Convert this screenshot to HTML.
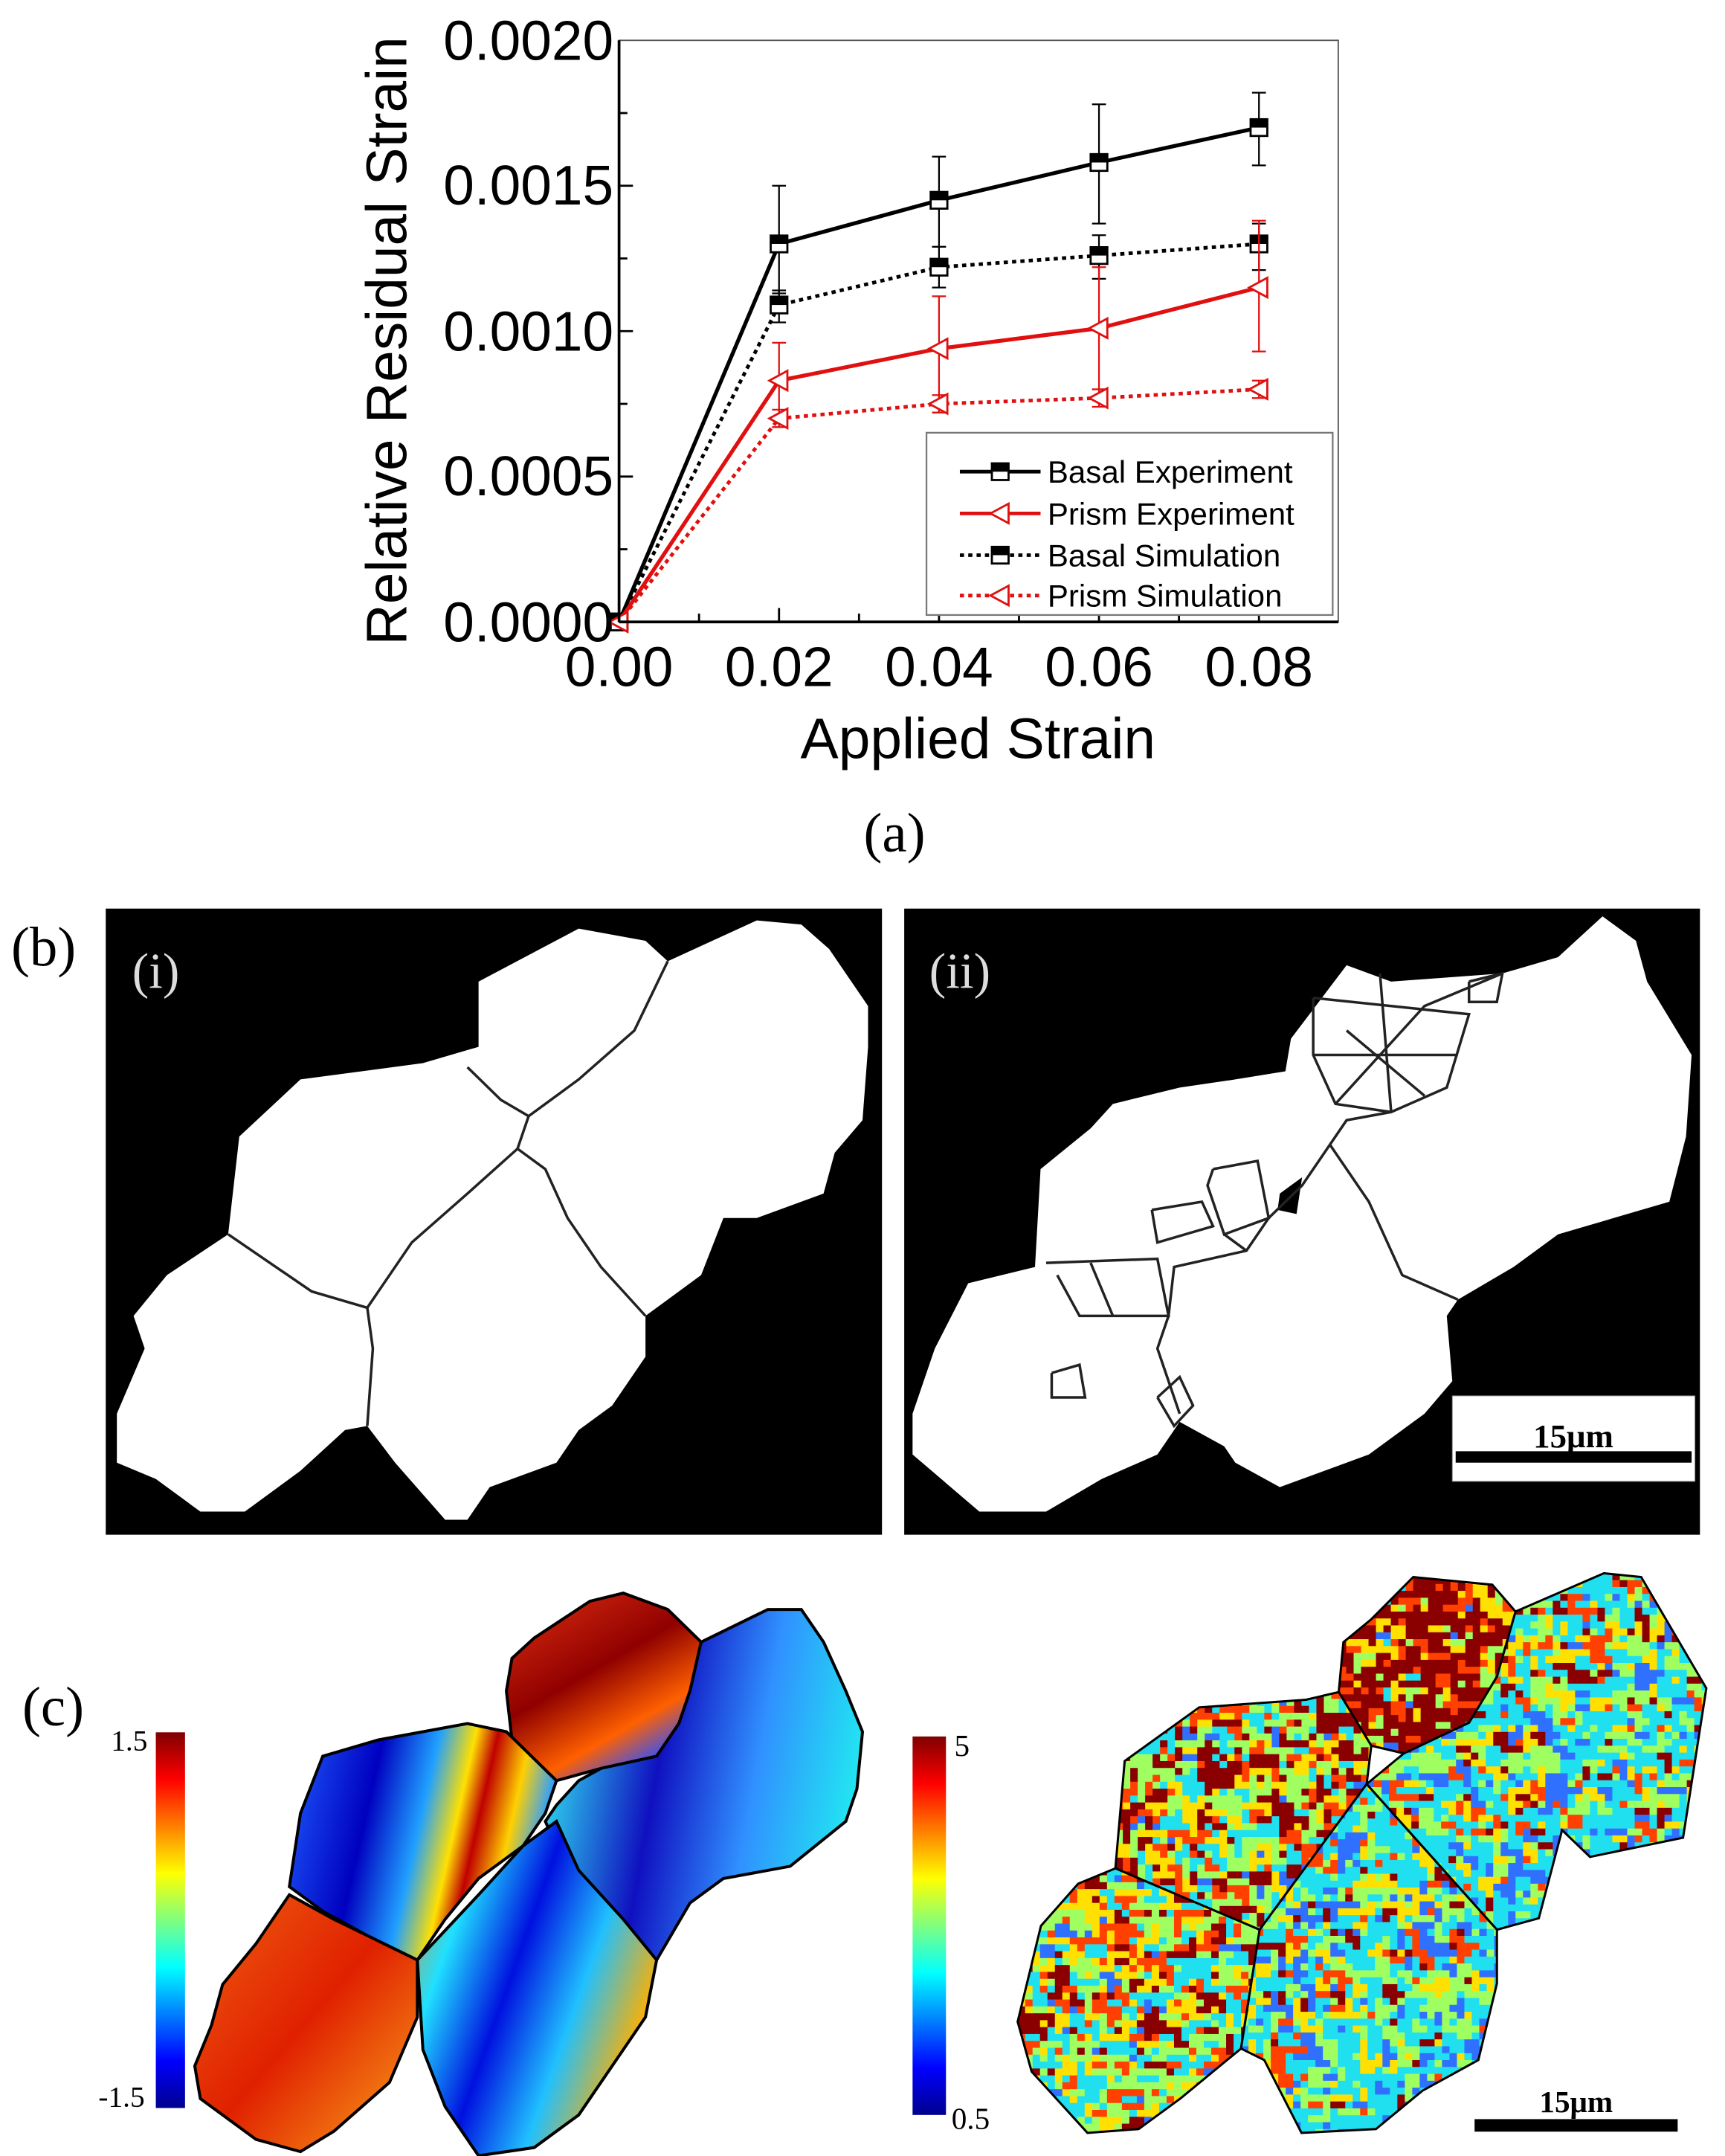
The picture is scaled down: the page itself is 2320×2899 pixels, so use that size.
<!DOCTYPE html>
<html><head><meta charset="utf-8"><style>
html,body{margin:0;padding:0;background:#fff;}
svg{display:block;}
text{font-family:"Liberation Sans",sans-serif;}
.serif{font-family:"Liberation Serif",serif;}
</style></head><body>
<svg id="s" width="2320" height="2899" viewBox="0 0 1240 1549.5" xmlns="http://www.w3.org/2000/svg">
<defs>
<linearGradient id="cbar" x1="0" y1="1" x2="0" y2="0">
<stop offset="0" stop-color="#00008f"/><stop offset="0.125" stop-color="#0000ff"/><stop offset="0.375" stop-color="#00ffff"/><stop offset="0.5" stop-color="#7fff7f"/><stop offset="0.625" stop-color="#ffff00"/><stop offset="0.875" stop-color="#ff0000"/><stop offset="1" stop-color="#800000"/>
</linearGradient>
<linearGradient id="gTop" x1="0" y1="0" x2="0.6" y2="1"><stop offset="0" stop-color="#e03010"/><stop offset="0.5" stop-color="#900000"/><stop offset="0.8" stop-color="#ff6000"/><stop offset="1" stop-color="#3050ff"/></linearGradient>
<linearGradient id="gRight" x1="0" y1="0.4" x2="1" y2="0.6"><stop offset="0" stop-color="#30e0f0"/><stop offset="0.35" stop-color="#1010c0"/><stop offset="0.65" stop-color="#3090ff"/><stop offset="1" stop-color="#20f0f0"/></linearGradient>
<linearGradient id="gMid" x1="0" y1="0" x2="1" y2="0.2"><stop offset="0" stop-color="#2060ff"/><stop offset="0.35" stop-color="#0000c0"/><stop offset="0.55" stop-color="#20a0ff"/><stop offset="0.68" stop-color="#ffe000"/><stop offset="0.76" stop-color="#c00000"/><stop offset="0.88" stop-color="#ffd000"/><stop offset="1" stop-color="#30a0ff"/></linearGradient>
<linearGradient id="gBL" x1="0" y1="0" x2="1" y2="1"><stop offset="0" stop-color="#f06010"/><stop offset="0.5" stop-color="#e02000"/><stop offset="0.8" stop-color="#f07010"/><stop offset="1" stop-color="#ffc000"/></linearGradient>
<linearGradient id="gBM" x1="0" y1="0" x2="1" y2="0.5"><stop offset="0" stop-color="#ff8000"/><stop offset="0.25" stop-color="#20e0ff"/><stop offset="0.5" stop-color="#0010e0"/><stop offset="0.75" stop-color="#20c0ff"/><stop offset="1" stop-color="#ffb000"/></linearGradient>
</defs>

<g id="chart"></g>
<rect x="445" y="29" width="517" height="418" fill="none" stroke="#555" stroke-width="1"/>
<line x1="445" y1="29" x2="445" y2="447" stroke="#000" stroke-width="2"/>
<line x1="445" y1="447" x2="962" y2="447" stroke="#000" stroke-width="2"/>
<g font-size="40" text-anchor="end" fill="#000">
<text x="441" y="461">0.0000</text>
<text x="441" y="356">0.0005</text>
<text x="441" y="252">0.0010</text>
<text x="441" y="147">0.0015</text>
<text x="441" y="43">0.0020</text>
</g>
<g font-size="40" text-anchor="middle" fill="#000">
<text x="445" y="493">0.00</text>
<text x="560" y="493">0.02</text>
<text x="675" y="493">0.04</text>
<text x="790" y="493">0.06</text>
<text x="905" y="493">0.08</text>
</g>
<text x="703" y="545" font-size="41" text-anchor="middle">Applied Strain</text>
<text transform="translate(292,245) rotate(-90)" font-size="41" text-anchor="middle">Relative Residual Strain</text>
<text x="643" y="612" class="serif" font-size="40" text-anchor="middle">(a)</text>
<rect x="666" y="311" width="292" height="131" fill="#fff" stroke="#777" stroke-width="1.2"/>
<g id="leg"></g>
<g font-size="22.5" fill="#000">
<text x="753" y="347">Basal Experiment</text>
<text x="753" y="377">Prism Experiment</text>
<text x="753" y="407">Basal Simulation</text>
<text x="753" y="436">Prism Simulation</text>
</g>

<text x="8" y="694" class="serif" font-size="40">(b)</text>
<rect x="76" y="653" width="558" height="450" fill="#000"/>
<rect x="650" y="653" width="572" height="450" fill="#000"/>
<g transform="translate(0,641) scale(0.8,0.586)">
<polygon fill="#fff" points="105,700 105,640 130,560 120,520 150,470 205,420 215,300 270,230 380,210 430,190 430,110 520,45 580,60 600,85 680,35 720,40 745,70 780,140 780,190 775,280 750,320 740,370 680,400 650,400 630,470 580,520 580,570 550,630 520,660 500,700 440,730 420,770 400,770 355,700 330,655 310,660 270,710 220,760 180,760 140,720"/>
<g fill="none" stroke="#222" stroke-width="3.5">
<polyline vector-effect="non-scaling-stroke" points="420,215 450,255 475,275 520,230 570,170 600,85"/>
<polyline vector-effect="non-scaling-stroke" points="475,275 465,315 420,370 370,430 330,510 280,490 205,420"/>
<polyline vector-effect="non-scaling-stroke" points="465,315 490,340 510,400 540,460 580,520"/>
<polyline vector-effect="non-scaling-stroke" points="330,510 335,560 330,655"/>
</g>
<polygon fill="#fff" points="820,690 820,640 840,560 870,480 930,460 935,340 980,290 1000,260 1060,240 1110,230 1155,220 1160,180 1210,90 1250,110 1350,100 1400,80 1440,30 1470,60 1480,110 1520,200 1515,300 1500,380 1450,400 1400,420 1360,460 1310,500 1300,520 1305,600 1280,640 1230,690 1150,730 1110,700 1100,680 1060,650 1040,690 990,720 940,760 880,760"/>
<polygon fill="#000" points="1150,370 1170,350 1165,395 1148,390"/>
<g fill="none" stroke="#222" stroke-width="3.5">
<polyline vector-effect="non-scaling-stroke" points="1195,310 1170,360 1140,400 1120,440 1055,460 1050,520 1040,560 1060,640"/>
<polyline vector-effect="non-scaling-stroke" points="1180,130 1320,150 1300,240 1250,270 1200,260 1180,200 1180,130"/>
<polyline vector-effect="non-scaling-stroke" points="1240,100 1250,270"/>
<polyline vector-effect="non-scaling-stroke" points="1180,200 1310,200"/>
<polyline vector-effect="non-scaling-stroke" points="1200,260 1280,140 1350,100"/>
<polyline vector-effect="non-scaling-stroke" points="1210,170 1280,250"/>
<polyline vector-effect="non-scaling-stroke" points="1195,310 1210,280 1250,270"/>
<polyline vector-effect="non-scaling-stroke" points="1320,110 1350,100 1345,135 1320,135 1320,110"/>
<polyline vector-effect="non-scaling-stroke" points="1195,310 1230,380 1260,470 1310,500"/>
<polyline vector-effect="non-scaling-stroke" points="940,455 1040,450 1050,520 970,520 950,470"/>
<polyline vector-effect="non-scaling-stroke" points="980,455 1000,520"/>
<polyline vector-effect="non-scaling-stroke" points="945,590 970,580 975,620 945,620 945,590"/>
<polyline vector-effect="non-scaling-stroke" points="1040,620 1060,595 1072,630 1055,655 1040,620"/>
<polyline vector-effect="non-scaling-stroke" points="1035,390 1080,380 1090,410 1040,430 1035,390"/>
<polyline vector-effect="non-scaling-stroke" points="1090,340 1130,330 1140,400 1100,420 1085,360 1090,340"/>
<polyline vector-effect="non-scaling-stroke" points="1100,420 1120,440"/>
</g>
<rect x="1305" y="618" width="218" height="105" fill="#fff" stroke="#888" stroke-width="1" vector-effect="non-scaling-stroke"/>
<rect x="1308" y="686" width="212" height="14" fill="#000"/>
</g>
<text x="1131" y="1040" class="serif" font-size="24" font-weight="bold" text-anchor="middle">15μm</text>
<text x="95" y="710" class="serif" font-size="36" fill="#ddd">(i)</text>
<text x="668" y="710" class="serif" font-size="36" fill="#ddd">(ii)</text>

<text x="16" y="1240" class="serif" font-size="40">(c)</text>
<rect x="112" y="1245" width="21" height="270" fill="url(#cbar)"/>
<text x="106" y="1258" class="serif" font-size="21" text-anchor="end">1.5</text>
<text x="104" y="1514" class="serif" font-size="21" text-anchor="end">-1.5</text>
<rect x="656" y="1248" width="24" height="272" fill="url(#cbar)"/>
<text x="686" y="1262" class="serif" font-size="22">5</text>
<text x="684" y="1530" class="serif" font-size="22">0.5</text>
<g transform="translate(0,641) scale(0.8,0.586)" stroke="#000" stroke-width="4">
<polygon vector-effect="non-scaling-stroke" fill="url(#gTop)" points="460,940 480,915 530,870 560,860 600,880 630,920 620,980 610,1020 590,1060 540,1075 500,1090 460,1040 455,980"/>
<polygon vector-effect="non-scaling-stroke" fill="url(#gRight)" points="630,920 690,880 720,880 740,920 760,980 775,1030 770,1100 760,1140 710,1195 650,1210 620,1240 590,1310 570,1300 550,1260 510,1200 490,1140 500,1120 520,1090 540,1075 590,1060 610,1020 620,980"/>
<polygon vector-effect="non-scaling-stroke" fill="url(#gMid)" points="290,1060 340,1040 420,1020 455,1030 500,1090 490,1130 470,1170 430,1210 400,1260 375,1310 330,1280 290,1250 260,1220 270,1130"/>
<polygon vector-effect="non-scaling-stroke" fill="url(#gBL)" points="200,1340 230,1290 260,1230 300,1260 375,1310 375,1380 350,1460 300,1520 270,1545 230,1530 180,1480 175,1440 190,1390"/>
<polygon vector-effect="non-scaling-stroke" fill="url(#gBM)" points="375,1310 430,1230 470,1170 500,1140 520,1200 560,1260 590,1310 580,1380 560,1420 520,1500 480,1540 430,1550 400,1490 380,1420"/>
</g>
<g id="rc"></g>
<rect x="1060" y="1523" width="146" height="9" fill="#000"/>
<text x="1133" y="1518" class="serif" font-size="22" font-weight="bold" text-anchor="middle">15μm</text>
</svg>
<script>
(function(){
var NS="http://www.w3.org/2000/svg";
function el(p,t,a){var e=document.createElementNS(NS,t);for(var k in a)e.setAttribute(k,a[k]);p.appendChild(e);return e;}
var ch=document.getElementById("chart");
var lg=document.getElementById("leg");
function X(s){return 445+s*5750;} function Y(v){return 447-v*209000;}
for(var i=1;i<9;i++){var x=445+i*57.5;el(ch,"line",{x1:x,y1:447,x2:x,y2:i%2?441:437,stroke:"#000","stroke-width":1.5});}
for(var j=1;j<8;j++){var y=447-j*52.25;el(ch,"line",{x1:445,y1:y,x2:j%2?451:455,y2:y,stroke:"#000","stroke-width":1.5});}
var xs=[0,0.02,0.04,0.06,0.08];
var S=[
 {c:"#000",d:"",m:"sq",v:[0,0.0013,0.00145,0.00158,0.0017],e:[[0,0],[0.00113,0.0015],[0.00129,0.0016],[0.00137,0.00178],[0.00157,0.00182]]},
 {c:"#000",d:"3,3",m:"sq",v:[0,0.00109,0.00122,0.00126,0.0013],e:[[0,0],[0.00103,0.00114],[0.00115,0.00129],[0.00118,0.00133],[0.00121,0.00137]]},
 {c:"#e01010",d:"",m:"tri",v:[0,0.00083,0.00094,0.00101,0.00115],e:[[0,0],[0.00067,0.00096],[0.00072,0.00112],[0.0008,0.00122],[0.00093,0.00138]]},
 {c:"#e01010",d:"3,3",m:"tri",v:[0,0.0007,0.00075,0.00077,0.0008],e:[[0,0],[0.00067,0.00073],[0.00072,0.00078],[0.00074,0.0008],[0.00077,0.00083]]}];
function marker(g,m,c,x,y){
 if(m=="sq"){el(g,"rect",{x:x-6,y:y-6,width:12,height:12,fill:"#fff",stroke:c,"stroke-width":1.5});el(g,"rect",{x:x-6,y:y-6,width:12,height:6,fill:c});}
 else{el(g,"polygon",{points:(x-7)+","+y+" "+(x+6)+","+(y-7)+" "+(x+6)+","+(y+7),fill:"#fff",stroke:c,"stroke-width":1.5});}
}
S.forEach(function(s){
 var pts=xs.map(function(x,i){return X(x)+","+Y(s.v[i]);}).join(" ");
 el(ch,"polyline",{points:pts,fill:"none",stroke:s.c,"stroke-width":s.d?2.6:2.8,"stroke-dasharray":s.d});
 xs.forEach(function(x,i){var a=s.e[i];if(a[0]==a[1])return;var xx=X(x);
  el(ch,"line",{x1:xx,y1:Y(a[0]),x2:xx,y2:Y(a[1]),stroke:s.c,"stroke-width":1.2});
  el(ch,"line",{x1:xx-5,y1:Y(a[0]),x2:xx+5,y2:Y(a[0]),stroke:s.c,"stroke-width":1.2});
  el(ch,"line",{x1:xx-5,y1:Y(a[1]),x2:xx+5,y2:Y(a[1]),stroke:s.c,"stroke-width":1.2});});
 xs.forEach(function(x,i){marker(ch,s.m,s.c,X(x),Y(s.v[i]));});
});
[[339,"#000","","sq"],[369,"#e01010","","tri"],[399,"#000","3,3","sq"],[428,"#e01010","3,3","tri"]].forEach(function(l){
 el(lg,"line",{x1:690,y1:l[0],x2:748,y2:l[0],stroke:l[1],"stroke-width":2.6,"stroke-dasharray":l[2]});
 marker(lg,l[3],l[1],719,l[0]);});
var rc=document.getElementById("rc");
var g=el(rc,"g",{transform:"translate(721.5,1122.4) scale(0.3345,0.2755)"});
var grains=[
 {p:"730,210 790,150 880,40 1050,60 1100,130 1060,300 1000,420 860,500 790,480 720,340",w:[0.03,0.05,0.08,0.2,0.2,0.44]},
 {p:"1100,130 1290,30 1370,40 1510,330 1460,720 1260,770 1200,700 1150,930 1060,960 780,580 860,500 1000,420 1060,300",w:[0.12,0.36,0.2,0.14,0.1,0.08]},
 {p:"240,800 260,520 420,380 650,360 720,340 790,480 780,580 550,960",w:[0.05,0.2,0.2,0.17,0.13,0.25]},
 {p:"240,800 550,960 510,1270 380,1400 290,1480 180,1490 60,1330 30,1200 80,950 160,840",w:[0.04,0.25,0.22,0.19,0.15,0.15]},
 {p:"550,960 780,580 1060,960 1060,1100 1020,1300 900,1380 800,1480 640,1490 560,1300 510,1270",w:[0.16,0.38,0.2,0.12,0.08,0.06]}];
var cols=["#3070ff","#20e0f0","#a0ff60","#ffe000","#ff4000","#8a0000"];
var defs=document.querySelector("defs");
var seed=7;function rnd(){seed=(seed*16807)%2147483647;return seed/2147483647;}
grains.forEach(function(gr,k){
 var cp=el(defs,"clipPath",{id:"cp"+k});el(cp,"polygon",{points:gr.p});
 var gg=el(g,"g",{"clip-path":"url(#cp"+k+")"});
 var xsN=gr.p.split(" ").map(function(t){return t.split(",").map(Number);});
 var x0=1e9,x1=-1e9,y0=1e9,y1=-1e9;xsN.forEach(function(q){x0=Math.min(x0,q[0]);x1=Math.max(x1,q[0]);y0=Math.min(y0,q[1]);y1=Math.max(y1,q[1]);});
 var cw=16,chh=18,prev=[],row;
 for(var yy=y0;yy<y1;yy+=chh){row=[];var c=0;for(var xx=x0;xx<x1;xx+=cw){
  var ci;var r=rnd();
  if(r<0.25&&row.length)ci=row[row.length-1];else if(r<0.45&&prev[c]!==undefined)ci=prev[c];
  else{var r2=rnd(),a=0;ci=5;for(var t=0;t<6;t++){a+=gr.w[t];if(r2<a){ci=t;break;}}}
  row.push(ci);c++;
  el(gg,"rect",{x:xx,y:yy,width:cw+1,height:chh+1,fill:cols[ci]});}prev=row;}
 el(g,"polygon",{points:gr.p,fill:"none",stroke:"#000","stroke-width":3,"vector-effect":"non-scaling-stroke"});
});
})();
</script>
</body></html>
